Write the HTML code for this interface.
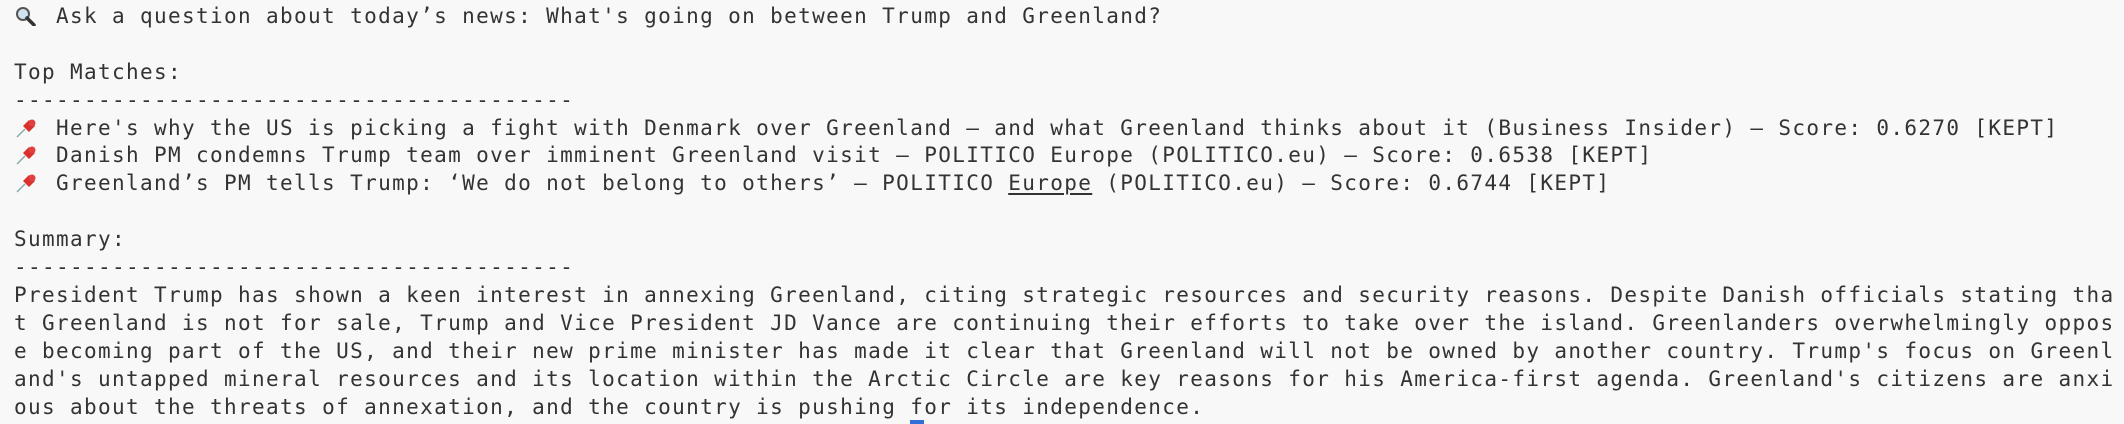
<!DOCTYPE html>
<html><head><meta charset="utf-8">
<style>
html,body{margin:0;padding:0;}
body{width:2124px;height:424px;background:#f8f8f8;overflow:hidden;position:relative;}
#term{position:absolute;left:14px;top:2.8px;font-family:"DejaVu Sans Mono","Liberation Mono",monospace;font-size:21px;letter-spacing:1.36px;line-height:27.95px;color:#333;}
.ln{height:27.95px;white-space:pre;}
.ico{display:inline-block;width:28px;height:20px;vertical-align:-3px;}
u{text-decoration:underline;text-underline-offset:3px;}
#cursor{position:absolute;left:910px;top:420px;width:14px;height:4px;background:#2f6fd6;}
</style></head><body>
<div id="term"><div class="ln"><svg class="ico" viewBox="0 0 28 20"><circle cx="9" cy="8" r="6" fill="#cfe3f3" stroke="#555" stroke-width="2"/><line x1="13" y1="12" x2="20" y2="19" stroke="#333" stroke-width="3.5" stroke-linecap="round"/></svg> Ask a question about today’s news: What's going on between Trump and Greenland?</div><div class="ln"> </div><div class="ln">Top Matches:</div><div class="ln">----------------------------------------</div><div class="ln"><svg class="ico" viewBox="0 0 28 20"><line x1="3" y1="19" x2="11" y2="11" stroke="#8aa" stroke-width="1.5"/><path d="M9 8 L15 2 L21 8 L15 14 Z" fill="#d9302c"/><circle cx="18" cy="5" r="3.5" fill="#e04040"/></svg> Here's why the US is picking a fight with Denmark over Greenland – and what Greenland thinks about it (Business Insider) – Score: 0.6270 [KEPT]</div><div class="ln"><svg class="ico" viewBox="0 0 28 20"><line x1="3" y1="19" x2="11" y2="11" stroke="#8aa" stroke-width="1.5"/><path d="M9 8 L15 2 L21 8 L15 14 Z" fill="#d9302c"/><circle cx="18" cy="5" r="3.5" fill="#e04040"/></svg> Danish PM condemns Trump team over imminent Greenland visit – POLITICO Europe (POLITICO.eu) – Score: 0.6538 [KEPT]</div><div class="ln"><svg class="ico" viewBox="0 0 28 20"><line x1="3" y1="19" x2="11" y2="11" stroke="#8aa" stroke-width="1.5"/><path d="M9 8 L15 2 L21 8 L15 14 Z" fill="#d9302c"/><circle cx="18" cy="5" r="3.5" fill="#e04040"/></svg> Greenland’s PM tells Trump: ‘We do not belong to others’ – POLITICO <u>Europe</u> (POLITICO.eu) – Score: 0.6744 [KEPT]</div><div class="ln"> </div><div class="ln">Summary:</div><div class="ln">----------------------------------------</div><div><div class="ln">President Trump has shown a keen interest in annexing Greenland, citing strategic resources and security reasons. Despite Danish officials stating tha</div><div class="ln">t Greenland is not for sale, Trump and Vice President JD Vance are continuing their efforts to take over the island. Greenlanders overwhelmingly oppos</div><div class="ln">e becoming part of the US, and their new prime minister has made it clear that Greenland will not be owned by another country. Trump's focus on Greenl</div><div class="ln">and's untapped mineral resources and its location within the Arctic Circle are key reasons for his America-first agenda. Greenland's citizens are anxi</div><div class="ln">ous about the threats of annexation, and the country is pushing for its independence.</div></div></div>
<div id="cursor"></div>
</body></html>
